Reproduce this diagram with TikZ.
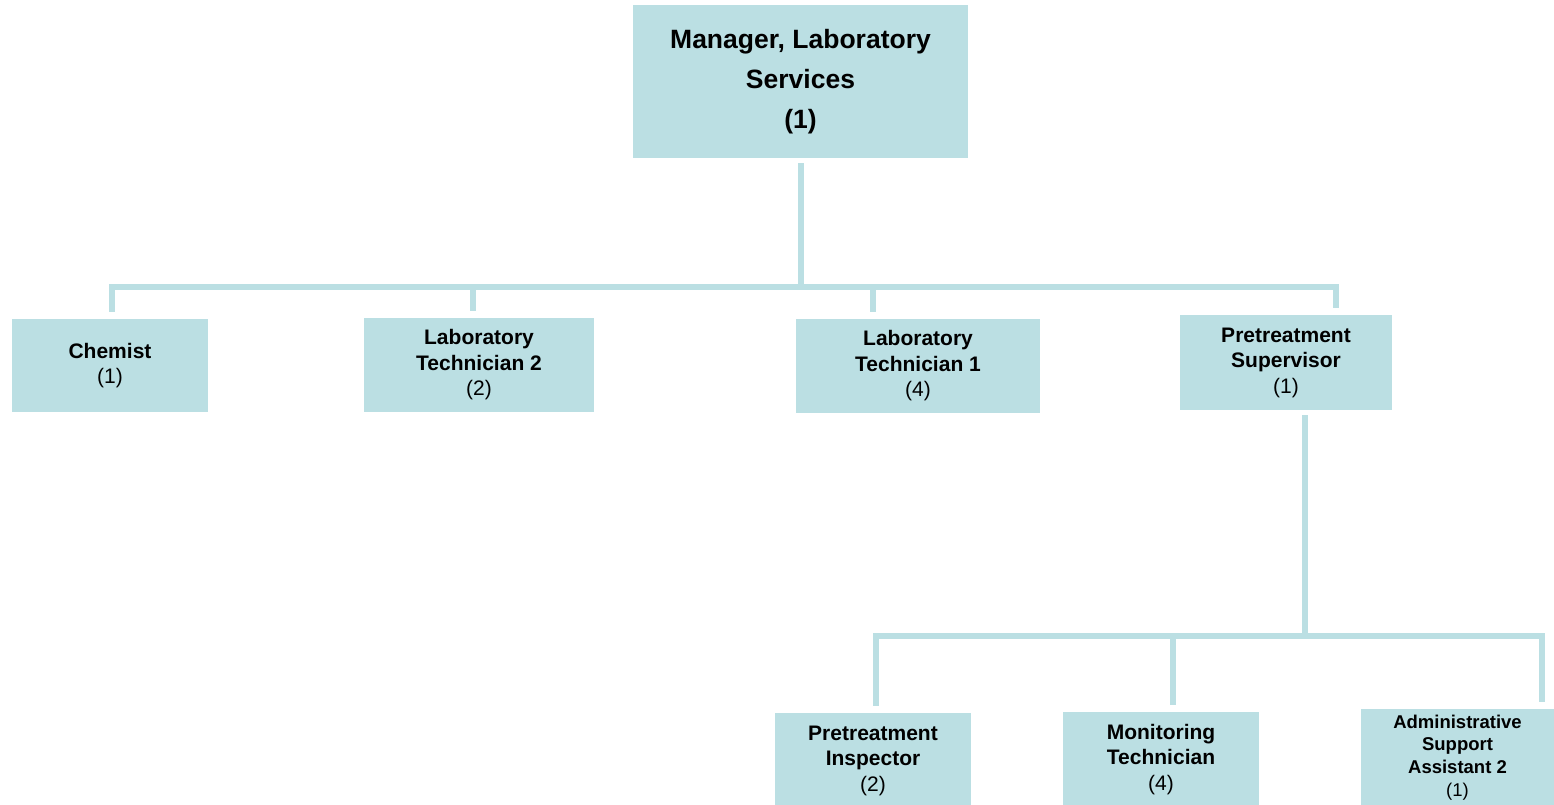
\documentclass[tikz,border=0pt]{standalone}
\usepackage{fontspec}
\setmainfont{Liberation Sans}
\definecolor{boxblue}{RGB}{187,223,227}

\begin{document}
\begin{tikzpicture}[x=1pt,y=-1pt,
                    box node/.style={fill=boxblue, inner sep=0pt, align=center,
                                     font=\fontsize{21}{25.5}\selectfont},
                    conn/.style={draw=boxblue, line width=6pt,
                                 shorten <=5pt, shorten >=7pt}]
  \useasboundingbox (0,0) rectangle (1554,805);

  %Top%
  \node[box node, minimum width=335, minimum height=153,
        font=\fontsize{26.5}{40}\selectfont\bfseries] (1) at (800.5,81.5)
        {Manager, Laboratory\\Services\\(1)};

  %Second row%
  \node[box node, minimum width=196, minimum height=93] (2) at (110,365.5)
        {\textbf{Chemist}\\(1)};
  \node[box node, minimum width=230, minimum height=94] (3) at (479,365)
        {\textbf{Laboratory}\\\textbf{Technician 2}\\(2)};
  \node[box node, minimum width=244, minimum height=94] (4) at (918,366)
        {\textbf{Laboratory}\\\textbf{Technician 1}\\(4)};
  \node[box node, minimum width=212, minimum height=95] (5) at (1286,362.5)
        {\textbf{Pretreatment}\\\textbf{Supervisor}\\(1)};

  %Third row%
  \node[box node, minimum width=196, minimum height=95] (6) at (873,760.5)
        {\textbf{Pretreatment}\\\textbf{Inspector}\\(2)};
  \node[box node, minimum width=196, minimum height=95] (7) at (1161,759.5)
        {\textbf{Monitoring}\\\textbf{Technician}\\(4)};
  \node[box node, minimum width=193, minimum height=97,
        font=\fontsize{18.5}{22.8}\selectfont] (8) at (1457.5,757.5)
        {\textbf{Administrative}\\\textbf{Support}\\\textbf{Assistant 2}\\(1)};

  %Lines%
  \draw[conn] (1.south) -- ++(0,129) -| ([xshift=2]2.north);
  \draw[conn] (1.south) -- ++(0,129) -| ([xshift=-6]3.north);
  \draw[conn] (1.south) -- ++(0,129) -| ([xshift=-45]4.north);
  \draw[conn] (1.south) -- ++(0,129) -| ([xshift=50]5.north);

  \draw[conn] ([xshift=19]5.south) -- ++(0,226) -| ([xshift=3]6.north);
  \draw[conn] ([xshift=19]5.south) -- ++(0,226) -| ([xshift=12]7.north);
  \draw[conn] ([xshift=19]5.south) -- ++(0,226) -| ([xshift=84]8.north);
\end{tikzpicture}
\end{document}
